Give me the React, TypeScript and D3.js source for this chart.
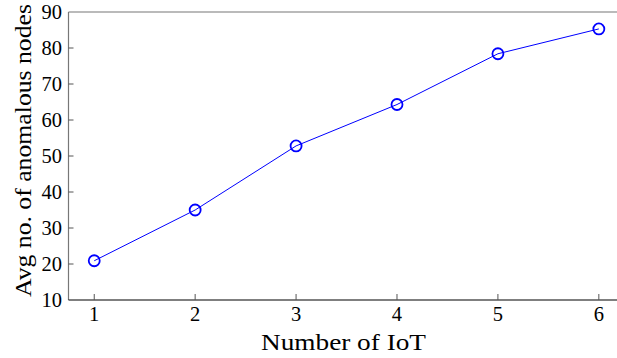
import { useRef, useEffect } from 'react';
import * as d3 from 'd3';

const iotCounts = [1, 2, 3, 4, 5, 6];
const anomalousNodes = [20.9, 35.0, 52.8, 64.3, 78.4, 85.3];
const yTicks = [10, 20, 30, 40, 50, 60, 70, 80, 90];

const App = () => {
  const svgRef = useRef<SVGSVGElement>(null);

  useEffect(() => {
    const width = 617;
    const height = 358;
    const left = 68.5;
    const top = 12;
    const bottom = 300;
    const font = '"Liberation Serif", "DejaVu Serif", serif';

    const svg = d3.select(svgRef.current);
    svg.selectAll('*').remove();

    const x = d3.scaleLinear().domain([0.745, 6.18]).range([left, width]);
    const y = d3.scaleLinear().domain([10, 90]).range([bottom, top]);

    // spines
    svg.append('line')
      .attr('x1', left).attr('x2', width).attr('y1', top).attr('y2', top)
      .attr('stroke', '#777').attr('stroke-width', 1.2);
    svg.append('line')
      .attr('x1', left).attr('x2', left).attr('y1', top).attr('y2', bottom)
      .attr('stroke', '#777').attr('stroke-width', 1.2);
    svg.append('line')
      .attr('x1', left).attr('x2', width).attr('y1', bottom).attr('y2', bottom)
      .attr('stroke', '#000').attr('stroke-width', 1.2);

    // y ticks
    const yg = svg.append('g');
    yTicks.forEach(t => {
      if (t !== 10 && t !== 90) {
        yg.append('line')
          .attr('x1', left).attr('x2', left + 5)
          .attr('y1', y(t)).attr('y2', y(t))
          .attr('stroke', '#555').attr('stroke-width', 1);
      }
      yg.append('text')
        .attr('x', left - 6.5).attr('y', y(t) + 7)
        .attr('text-anchor', 'end')
        .style('font-family', font)
        .style('font-size', '20.5px')
        .text(t);
    });

    // x ticks
    const xg = svg.append('g');
    iotCounts.forEach(t => {
      xg.append('line')
        .attr('x1', x(t)).attr('x2', x(t))
        .attr('y1', bottom).attr('y2', bottom - 6)
        .attr('stroke', '#555').attr('stroke-width', 1);
      xg.append('text')
        .attr('x', x(t)).attr('y', 321)
        .attr('text-anchor', 'middle')
        .style('font-family', font)
        .style('font-size', '20.5px')
        .text(t);
    });

    svg.append('text')
      .attr('x', 261).attr('y', 349.5)
      .attr('textLength', 165)
      .attr('lengthAdjust', 'spacingAndGlyphs')
      .style('font-family', font)
      .style('font-size', '24px')
      .text('Number of IoT');

    svg.append('text')
      .attr('transform', `translate(31,${297}) rotate(-90)`)
      .attr('textLength', 293)
      .attr('lengthAdjust', 'spacingAndGlyphs')
      .style('font-family', font)
      .style('font-size', '24px')
      .text('Avg no. of anomalous nodes');

    const pts = iotCounts.map((d, i) => [d, anomalousNodes[i]] as [number, number]);
    const line = d3.line<[number, number]>().x(d => x(d[0])).y(d => y(d[1]));

    svg.append('path')
      .datum(pts)
      .attr('d', line)
      .attr('fill', 'none')
      .attr('stroke', '#0000ff')
      .attr('stroke-width', 1);

    svg.selectAll('.pt')
      .data(pts)
      .enter()
      .append('circle')
      .attr('class', 'pt')
      .attr('cx', d => x(d[0]))
      .attr('cy', d => y(d[1]))
      .attr('r', 5.5)
      .attr('fill', 'none')
      .attr('stroke', '#0000ff')
      .attr('stroke-width', 1.8);
  }, []);

  return (
    <svg ref={svgRef} width={617} height={358}
      style={{ position: 'absolute', left: 0, top: 0, background: '#fff' }} />
  );
};

export default App;
